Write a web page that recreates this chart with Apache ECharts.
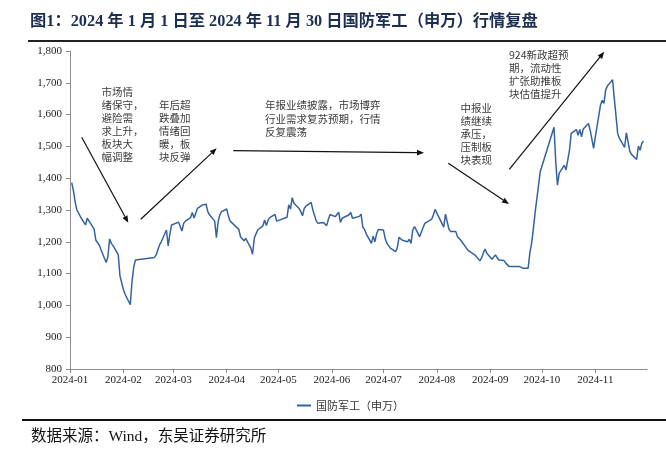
<!DOCTYPE html>
<html>
<head>
<meta charset="utf-8">
<script src="https://cdn.jsdelivr.net/npm/echarts@6/dist/echarts.min.js"></script>
<style>
html,body{margin:0;padding:0;background:#fff;}
#c{width:666px;height:452px;}
</style>
</head>
<body>
<div id="c"></div>
<script>
const dates = [
'2024-01-02','2024-01-03','2024-01-04','2024-01-05','2024-01-08','2024-01-09','2024-01-10','2024-01-11','2024-01-12',
'2024-01-15','2024-01-16','2024-01-17','2024-01-18','2024-01-19','2024-01-22','2024-01-23','2024-01-24','2024-01-25','2024-01-26',
'2024-01-29','2024-01-30','2024-01-31','2024-02-01','2024-02-02','2024-02-05','2024-02-06','2024-02-07','2024-02-08',
'2024-02-19','2024-02-20','2024-02-21','2024-02-22','2024-02-23','2024-02-26','2024-02-27','2024-02-28','2024-02-29',
'2024-03-01','2024-03-04','2024-03-05','2024-03-06','2024-03-07','2024-03-08','2024-03-11','2024-03-12','2024-03-13','2024-03-14','2024-03-15',
'2024-03-18','2024-03-19','2024-03-20','2024-03-21','2024-03-22','2024-03-25','2024-03-26','2024-03-27','2024-03-28','2024-03-29',
'2024-04-01','2024-04-02','2024-04-03','2024-04-08','2024-04-09','2024-04-10','2024-04-11','2024-04-12',
'2024-04-15','2024-04-16','2024-04-17','2024-04-18','2024-04-19','2024-04-22','2024-04-23','2024-04-24','2024-04-25','2024-04-26',
'2024-04-29','2024-04-30','2024-05-06','2024-05-07','2024-05-08','2024-05-09','2024-05-10',
'2024-05-13','2024-05-14','2024-05-15','2024-05-16','2024-05-17','2024-05-20','2024-05-21','2024-05-22','2024-05-23','2024-05-24',
'2024-05-27','2024-05-28','2024-05-29','2024-05-30','2024-05-31','2024-06-03','2024-06-04','2024-06-05','2024-06-06','2024-06-07',
'2024-06-11','2024-06-12','2024-06-13','2024-06-14','2024-06-17','2024-06-18','2024-06-19','2024-06-20','2024-06-21',
'2024-06-24','2024-06-25','2024-06-26','2024-06-27','2024-06-28','2024-07-01','2024-07-02','2024-07-03','2024-07-04','2024-07-05',
'2024-07-08','2024-07-09','2024-07-10','2024-07-11','2024-07-12','2024-07-15','2024-07-16','2024-07-17','2024-07-18','2024-07-19',
'2024-07-22','2024-07-23','2024-07-24','2024-07-25','2024-07-26','2024-07-29','2024-07-30','2024-07-31','2024-08-01','2024-08-02',
'2024-08-05','2024-08-06','2024-08-07','2024-08-08','2024-08-09','2024-08-12','2024-08-13','2024-08-14','2024-08-15','2024-08-16',
'2024-08-19','2024-08-20','2024-08-21','2024-08-22','2024-08-23','2024-08-26','2024-08-27','2024-08-28','2024-08-29','2024-08-30',
'2024-09-02','2024-09-03','2024-09-04','2024-09-05','2024-09-06','2024-09-09','2024-09-10','2024-09-11','2024-09-12','2024-09-13',
'2024-09-18','2024-09-19','2024-09-20','2024-09-23','2024-09-24','2024-09-25','2024-09-26','2024-09-27','2024-09-30',
'2024-10-08','2024-10-09','2024-10-10','2024-10-11','2024-10-14','2024-10-15','2024-10-16','2024-10-17','2024-10-18',
'2024-10-21','2024-10-22','2024-10-23','2024-10-24','2024-10-25','2024-10-28','2024-10-29','2024-10-30','2024-10-31','2024-11-01',
'2024-11-04','2024-11-05','2024-11-06','2024-11-07','2024-11-08','2024-11-11','2024-11-12','2024-11-13','2024-11-14','2024-11-15',
'2024-11-18','2024-11-19','2024-11-20','2024-11-21','2024-11-22','2024-11-25','2024-11-26','2024-11-27','2024-11-28','2024-11-29'
];
const values = [
1386,1360,1325,1300,1270,1262,1253,1274,1266,
1240,1205,1200,1190,1175,1135,1153,1209,1195,1188,
1160,1093,1089,1050,1035,1002,1075,1120,1143,
1151,1158,1175,1190,1200,1237,1187,1225,1253,
1256,1262,1265,1234,1258,1265,1276,1292,1275,1290,1305,
1316,1316,1318,1295,1285,1265,1213,1263,1285,1295,
1303,1280,1265,1239,1216,1210,1203,1211,
1180,1161,1211,1225,1237,1250,1269,1251,1268,1276,
1286,1265,1277,1316,1303,1339,1321,
1305,1295,1282,1305,1312,1324,1300,1295,1265,1258,
1261,1255,1251,1270,1286,1279,1285,1293,1261,1274,
1285,1292,1274,1276,1280,1287,1246,1239,1225,
1195,1218,1200,1225,1239,1237,1210,1195,1190,1180,
1169,1180,1214,1210,1205,1200,1208,1195,1237,1248,
1216,1214,1245,1258,1262,1271,1285,1302,1290,1284,
1246,1287,1263,1240,1232,1232,1216,1210,1204,1200,
1174,1169,1166,1164,1159,1140,1150,1165,1177,1164,
1145,1150,1159,1150,1143,1141,1133,1128,1122,1122,
1122,1127,1117,1117,1165,1195,1240,1290,1420,
1560,1455,1378,1415,1441,1426,1430,1488,1541,
1553,1535,1553,1530,1555,1572,1551,1551,1494,1530,
1630,1645,1635,1677,1690,1710,1651,1651,1540,1525,
1497,1543,1540,1485,1475,1459,1501,1488,1510,1517
];
const seriesName = '国防军工（申万）';
const yMin = 800, yMax = 1800, yStep = 100;
const xMin = '2024-01-01', xMax = '2024-12-01';

const titleText = '图1：2024 年 1 月 1 日至 2024 年 11 月 30 日国防军工（申万）行情复盘';
const sourceText = '数据来源：Wind，东吴证券研究所';
const notes = [
  {text:'市场情\n绪保守，\n避险需\n求上升，\n板块大\n幅调整', x:101.5, y:86, lh:13},
  {text:'年后超\n跌叠加\n情绪回\n暖，板\n块反弹', x:159, y:98.5, lh:13},
  {text:'年报业绩披露，市场博弈\n行业需求复苏预期，行情\n反复震荡', x:265, y:98.5, lh:13.6},
  {text:'中报业\n绩继续\n承压，\n压制板\n块表现', x:460.5, y:101.8, lh:13},
  {text:'924新政超预\n期，流动性\n扩张助推板\n块估值提升', x:509, y:48.5, lh:13}
];
const arrows = [
  [81.7,137.3,128.3,222.7],
  [140.7,219.3,216.7,148.3],
  [233.3,150.7,424,152.7],
  [448.3,163.3,509,204],
  [509.3,169.3,604.3,51.7]
];

const CJK = '"Liberation Serif","Noto Sans CJK SC",serif';
const graphics = [];
graphics.push({type:'text', x:30, y:22, style:{text:titleText, font:'bold 16.3px '+CJK, fill:'#1c2f52', verticalAlign:'middle'}});
graphics.push({type:'rect', shape:{x:28, y:40, width:638, height:2}, style:{fill:'#222'}});
graphics.push({type:'rect', shape:{x:22, y:419, width:644, height:2}, style:{fill:'#111'}});
graphics.push({type:'text', x:31, y:437, style:{text:sourceText, font:'15.5px '+CJK, fill:'#111', verticalAlign:'middle'}});
notes.forEach(n=>{
  graphics.push({type:'text', x:n.x, y:n.y, style:{text:n.text, font:'10.5px "Noto Sans CJK SC"', fill:'#3a3a3a', lineHeight:n.lh, verticalAlign:'top'}});
});
arrows.forEach(a=>{
  const [x1,y1,x2,y2]=a;
  const ang=Math.atan2(y2-y1,x2-x1), c=Math.cos(ang), s=Math.sin(ang);
  const L=7, W=2.8;
  const bx=x2-L*c, by=y2-L*s;
  graphics.push({type:'line', shape:{x1:x1,y1:y1,x2:bx,y2:by}, style:{stroke:'#111', lineWidth:1.2}});
  graphics.push({type:'polygon', shape:{points:[[x2,y2],[bx-s*W,by+c*W],[bx+s*W,by-c*W]]}, style:{fill:'#111'}});
});

const chart = echarts.init(document.getElementById('c'), null, {renderer:'canvas'});
chart.setOption({
  animation:false,
  grid:{left:70, right:19, top:51, bottom:83, containLabel:false},
  legend:{data:[{name:seriesName, icon:'rect'}], top:395, left:292, itemWidth:14, itemHeight:2, itemGap:4,
    textStyle:{fontSize:11, color:'#333', fontFamily:'"Noto Sans CJK SC"'}},
  xAxis:{type:'time', min:xMin, max:xMax, minInterval:28*864e5, maxInterval:31*864e5,
    axisLine:{show:true, lineStyle:{color:'#8c8c8c', width:1}},
    axisTick:{show:true, length:4, lineStyle:{color:'#8c8c8c'}},
    axisLabel:{formatter:'{yyyy}-{MM}', color:'#222', fontSize:11, fontFamily:'"Liberation Serif"', margin:6, showMaxLabel:false, hideOverlap:false},
    splitLine:{show:false}, minorTick:{show:false}},
  yAxis:{type:'value', min:yMin, max:yMax, interval:yStep,
    axisLine:{show:true, lineStyle:{color:'#8c8c8c', width:1}},
    axisTick:{show:true, length:4, lineStyle:{color:'#8c8c8c'}},
    axisLabel:{color:'#222', fontSize:11, fontFamily:'"Liberation Serif"', margin:8,
      formatter:v=>v.toLocaleString('en-US')},
    splitLine:{show:false}},
  series:[{name:seriesName, type:'line', data:dates.map((d,i)=>[d,values[i]]), showSymbol:false, symbol:'none',
    lineStyle:{color:'#3563a0', width:1.5}, itemStyle:{color:'#3563a0'}}],
  graphic:graphics
});
</script>
</body>
</html>
